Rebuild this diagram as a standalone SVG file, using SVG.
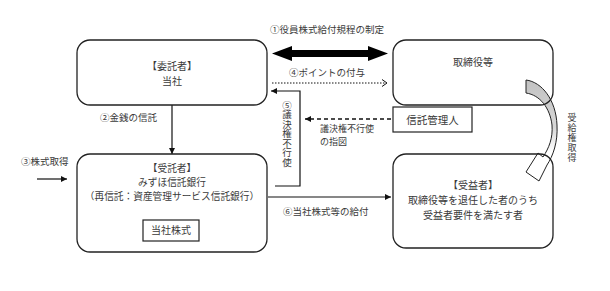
<svg xmlns="http://www.w3.org/2000/svg" width="610" height="291" viewBox="0 0 610 291">
<style>
text{font-family:"Noto Sans CJK JP","Noto Sans CJK SC",sans-serif;fill:#3a3a3a;}
.box{fill:none;stroke:#222;stroke-width:1.3;}
.lbl{font-size:9.5px;}
.in{font-size:10px;text-anchor:middle;}
.ln{fill:none;stroke:#111;stroke-width:1.2;}
.v{writing-mode:vertical-rl;text-orientation:upright;}
</style>
<defs>
<marker id="ah" markerUnits="userSpaceOnUse" markerWidth="7" markerHeight="7" refX="6" refY="3" orient="auto">
<path d="M0,0 L6,3 L0,6 Z" fill="#111"/>
</marker>
<linearGradient id="gr" gradientUnits="userSpaceOnUse" x1="0" y1="80" x2="0" y2="165">
<stop offset="0" stop-color="#c2c2c2"/>
<stop offset="0.55" stop-color="#d6d6d6"/>
<stop offset="0.85" stop-color="#ffffff"/>
</linearGradient>
</defs>
<rect width="610" height="291" fill="#fff"/>

<g id="curved-arrow">
<path d="M526,80 C542,82 556,100 557,125 C558,142 553,156 547,165 L539,181 L526,172 L538,153 L543,157 C549,148 553,138 552,125 C550,108 540,95 526,93 Z" fill="url(#gr)" stroke="#222" stroke-width="1"/>
</g>

<g id="connectors">
<path d="M272,53.5 L292,46 L292,50 L368,50 L368,46 L388,53.5 L368,61 L368,57 L292,57 L292,61 Z" fill="#000"/>
<line x1="272" y1="83" x2="386" y2="83" stroke="#111" stroke-width="1" stroke-dasharray="1.5 1.5"/>
<polyline points="382,79.5 387,83 382,86.5" fill="none" stroke="#111" stroke-width="1"/>
<path class="ln" d="M275,186 H300 V91 H271" marker-end="url(#ah)"/>
<path d="M391,119 H305" fill="none" stroke="#111" stroke-width="1.4" stroke-dasharray="4 3" marker-end="url(#ah)"/>
<path class="ln" d="M172,105 V154" marker-end="url(#ah)"/>
<path class="ln" d="M37,179 H67" marker-end="url(#ah)"/>
<path class="ln" d="M268,197 H391" marker-end="url(#ah)"/>
</g>

<g id="itakusha">
<rect class="box" x="77" y="40" width="190" height="65" rx="13"/>
<text class="in" x="172" y="70">【委託者】</text>
<text class="in" x="172" y="84.5">当社</text>
</g>

<g id="torishimariyaku">
<rect class="box" x="393" y="40" width="160" height="65" rx="13"/>
<text class="in" x="473" y="66">取締役等</text>
</g>

<g id="shintakukanrinin">
<rect x="393" y="107" width="79" height="25" fill="#fff" stroke="#222" stroke-width="1.2"/>
<text class="in" x="432.5" y="124" style="font-size:10.5px">信託管理人</text>
</g>

<g id="jutakusha">
<rect class="box" x="77" y="154" width="190" height="98" rx="13"/>
<text class="in" x="172" y="172" style="font-size:9.7px">【受託者】</text>
<text class="in" x="172" y="186" style="font-size:9.7px">みずほ信託銀行</text>
<text class="in" x="172" y="200" style="font-size:9.7px">（再信託：資産管理サービス信託銀行）</text>
</g>

<g id="toushakabushiki">
<rect x="143" y="220" width="56" height="21" fill="none" stroke="#222" stroke-width="1.2"/>
<text class="in" x="171" y="234">当社株式</text>
</g>

<g id="jyuekisha">
<rect class="box" x="393" y="154" width="160" height="94" rx="13"/>
<text class="in" x="473" y="189">【受益者】</text>
<text class="in" x="473" y="204">取締役等を退任した者のうち</text>
<text class="in" x="473" y="219">受益者要件を満たす者</text>
</g>

<g id="labels">
<text class="lbl" x="327" y="33" text-anchor="middle">①役員株式給付規程の制定</text>
<text class="lbl" x="327" y="76" text-anchor="middle">④ポイントの付与</text>
<text class="lbl" x="100" y="121">②金銭の信託</text>
<text class="lbl" x="21" y="165">③株式取得</text>
<text class="lbl" x="320" y="131.5" style="font-size:9px">議決権不行使</text>
<text class="lbl" x="320" y="145" style="font-size:9px">の指図</text>
<text class="lbl" x="283" y="215">⑥当社株式等の給付</text>
<text class="v" x="287" y="100.5" style="font-size:9.5px">⑤議決権不行使</text>
<text class="v" x="572" y="113.5" style="font-size:9px;letter-spacing:0.8px">受給権取得</text>
</g>
</svg>
